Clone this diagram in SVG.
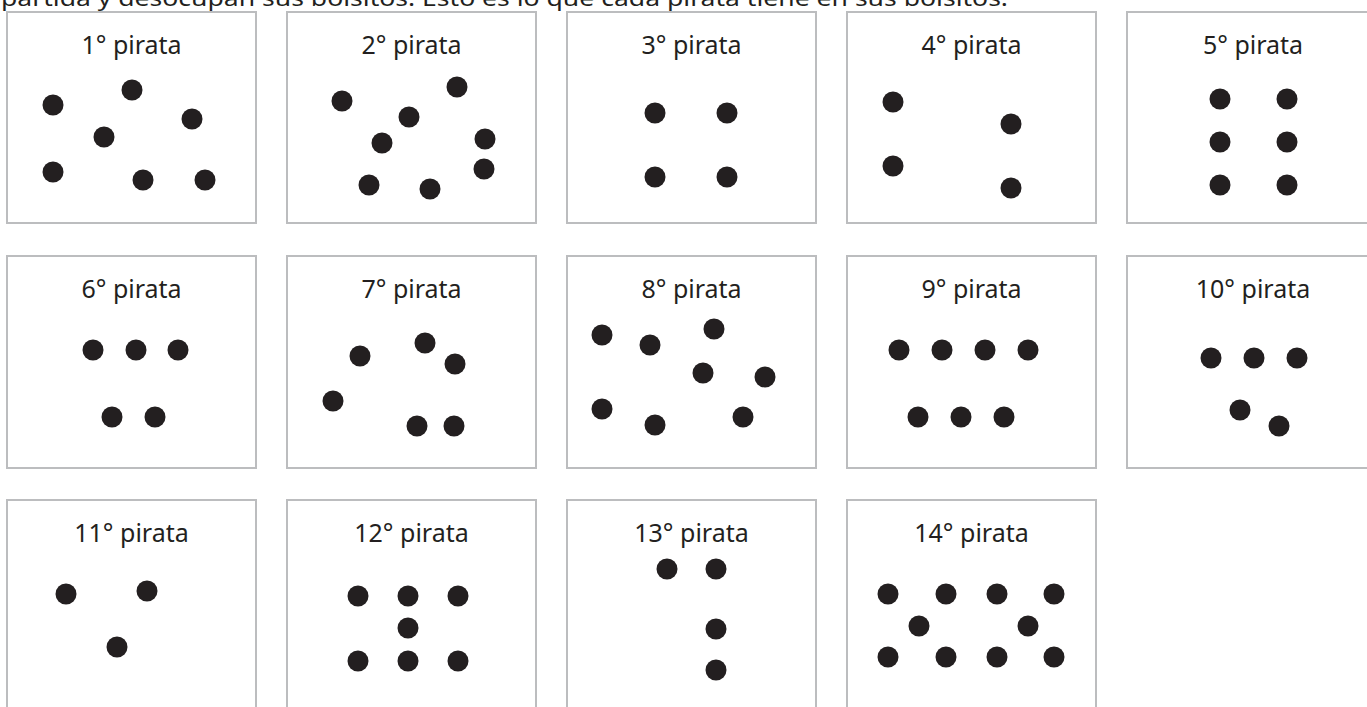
<svg xmlns="http://www.w3.org/2000/svg" width="1367" height="707" viewBox="0 0 1367 707">
<style>
.box{fill:#fff;stroke:#bcbdbf;stroke-width:2}
.lbl{font-family:"Noto Sans","Open Sans",sans-serif;font-size:25px;fill:#231f20;text-anchor:middle}
.top{font-family:"Noto Sans","Open Sans",sans-serif;font-size:22px;fill:#231f20}
circle{fill:#231f20}
</style>
<rect width="1367" height="707" fill="#fff"/>
<text class="top" x="1" y="6" textLength="1007" lengthAdjust="spacingAndGlyphs">partida y desocupan sus bolsitos. Esto es lo que cada pirata tiene en sus bolsitos.</text>
<g id="connectors"/>
<g id="p1">
<rect class="box" x="7" y="12" width="249" height="211"/>
<text class="lbl" x="131.5" y="54">1° pirata</text>
<circle cx="53" cy="105" r="10.5"/><circle cx="132" cy="90" r="10.5"/><circle cx="192" cy="119" r="10.5"/><circle cx="104" cy="137" r="10.5"/><circle cx="53" cy="172" r="10.5"/><circle cx="143" cy="180" r="10.5"/><circle cx="205" cy="180" r="10.5"/>
</g>
<g id="p2">
<rect class="box" x="287" y="12" width="249" height="211"/>
<text class="lbl" x="411.5" y="54">2° pirata</text>
<circle cx="342" cy="101" r="10.5"/><circle cx="457" cy="87" r="10.5"/><circle cx="409" cy="117" r="10.5"/><circle cx="382" cy="143" r="10.5"/><circle cx="485" cy="139" r="10.5"/><circle cx="484" cy="169" r="10.5"/><circle cx="369" cy="185" r="10.5"/><circle cx="430" cy="189" r="10.5"/>
</g>
<g id="p3">
<rect class="box" x="567" y="12" width="249" height="211"/>
<text class="lbl" x="691.5" y="54">3° pirata</text>
<circle cx="655" cy="113" r="10.5"/><circle cx="727" cy="113" r="10.5"/><circle cx="655" cy="177" r="10.5"/><circle cx="727" cy="177" r="10.5"/>
</g>
<g id="p4">
<rect class="box" x="847" y="12" width="249" height="211"/>
<text class="lbl" x="971.5" y="54">4° pirata</text>
<circle cx="893" cy="102" r="10.5"/><circle cx="1011" cy="124" r="10.5"/><circle cx="893" cy="166" r="10.5"/><circle cx="1011" cy="188" r="10.5"/>
</g>
<g id="p5">
<rect class="box" x="1127" y="12" width="250" height="211"/>
<text class="lbl" x="1253" y="54">5° pirata</text>
<circle cx="1220" cy="99" r="10.5"/><circle cx="1287" cy="99" r="10.5"/><circle cx="1220" cy="142" r="10.5"/><circle cx="1287" cy="142" r="10.5"/><circle cx="1220" cy="185" r="10.5"/><circle cx="1287" cy="185" r="10.5"/>
</g>
<g id="p6">
<rect class="box" x="7" y="256" width="249" height="212"/>
<text class="lbl" x="131.5" y="298">6° pirata</text>
<circle cx="93" cy="350" r="10.5"/><circle cx="136" cy="350" r="10.5"/><circle cx="178" cy="350" r="10.5"/><circle cx="112" cy="417" r="10.5"/><circle cx="155" cy="417" r="10.5"/>
</g>
<g id="p7">
<rect class="box" x="287" y="256" width="249" height="212"/>
<text class="lbl" x="411.5" y="298">7° pirata</text>
<circle cx="360" cy="356" r="10.5"/><circle cx="425" cy="343" r="10.5"/><circle cx="455" cy="364" r="10.5"/><circle cx="333" cy="401" r="10.5"/><circle cx="417" cy="426" r="10.5"/><circle cx="454" cy="426" r="10.5"/>
</g>
<g id="p8">
<rect class="box" x="567" y="256" width="249" height="212"/>
<text class="lbl" x="691.5" y="298">8° pirata</text>
<circle cx="602" cy="335" r="10.5"/><circle cx="650" cy="345" r="10.5"/><circle cx="714" cy="329" r="10.5"/><circle cx="703" cy="373" r="10.5"/><circle cx="765" cy="377" r="10.5"/><circle cx="602" cy="409" r="10.5"/><circle cx="655" cy="425" r="10.5"/><circle cx="743" cy="417" r="10.5"/>
</g>
<g id="p9">
<rect class="box" x="847" y="256" width="249" height="212"/>
<text class="lbl" x="971.5" y="298">9° pirata</text>
<circle cx="899" cy="350" r="10.5"/><circle cx="942" cy="350" r="10.5"/><circle cx="985" cy="350" r="10.5"/><circle cx="1028" cy="350" r="10.5"/><circle cx="918" cy="417" r="10.5"/><circle cx="961" cy="417" r="10.5"/><circle cx="1004" cy="417" r="10.5"/>
</g>
<g id="p10">
<rect class="box" x="1127" y="256" width="250" height="212"/>
<text class="lbl" x="1253" y="298">10° pirata</text>
<circle cx="1211" cy="358" r="10.5"/><circle cx="1254" cy="358" r="10.5"/><circle cx="1297" cy="358" r="10.5"/><circle cx="1240" cy="410" r="10.5"/><circle cx="1279" cy="426" r="10.5"/>
</g>
<g id="p11">
<rect class="box" x="7" y="500" width="249" height="215"/>
<text class="lbl" x="131.5" y="542">11° pirata</text>
<circle cx="66" cy="594" r="10.5"/><circle cx="147" cy="591" r="10.5"/><circle cx="117" cy="647" r="10.5"/>
</g>
<g id="p12">
<rect class="box" x="287" y="500" width="249" height="215"/>
<text class="lbl" x="411.5" y="542">12° pirata</text>
<circle cx="358" cy="596" r="10.5"/><circle cx="408" cy="596" r="10.5"/><circle cx="458" cy="596" r="10.5"/><circle cx="408" cy="628" r="10.5"/><circle cx="358" cy="661" r="10.5"/><circle cx="408" cy="661" r="10.5"/><circle cx="458" cy="661" r="10.5"/>
</g>
<g id="p13">
<rect class="box" x="567" y="500" width="249" height="215"/>
<text class="lbl" x="691.5" y="542">13° pirata</text>
<circle cx="667" cy="569" r="10.5"/><circle cx="716" cy="569" r="10.5"/><circle cx="716" cy="629" r="10.5"/><circle cx="716" cy="670" r="10.5"/>
</g>
<g id="p14">
<rect class="box" x="847" y="500" width="249" height="215"/>
<text class="lbl" x="971.5" y="542">14° pirata</text>
<circle cx="888" cy="594" r="10.5"/><circle cx="946" cy="594" r="10.5"/><circle cx="997" cy="594" r="10.5"/><circle cx="1054" cy="594" r="10.5"/><circle cx="919" cy="626" r="10.5"/><circle cx="1028" cy="626" r="10.5"/><circle cx="888" cy="657" r="10.5"/><circle cx="946" cy="657" r="10.5"/><circle cx="997" cy="657" r="10.5"/><circle cx="1054" cy="657" r="10.5"/>
</g>
</svg>
